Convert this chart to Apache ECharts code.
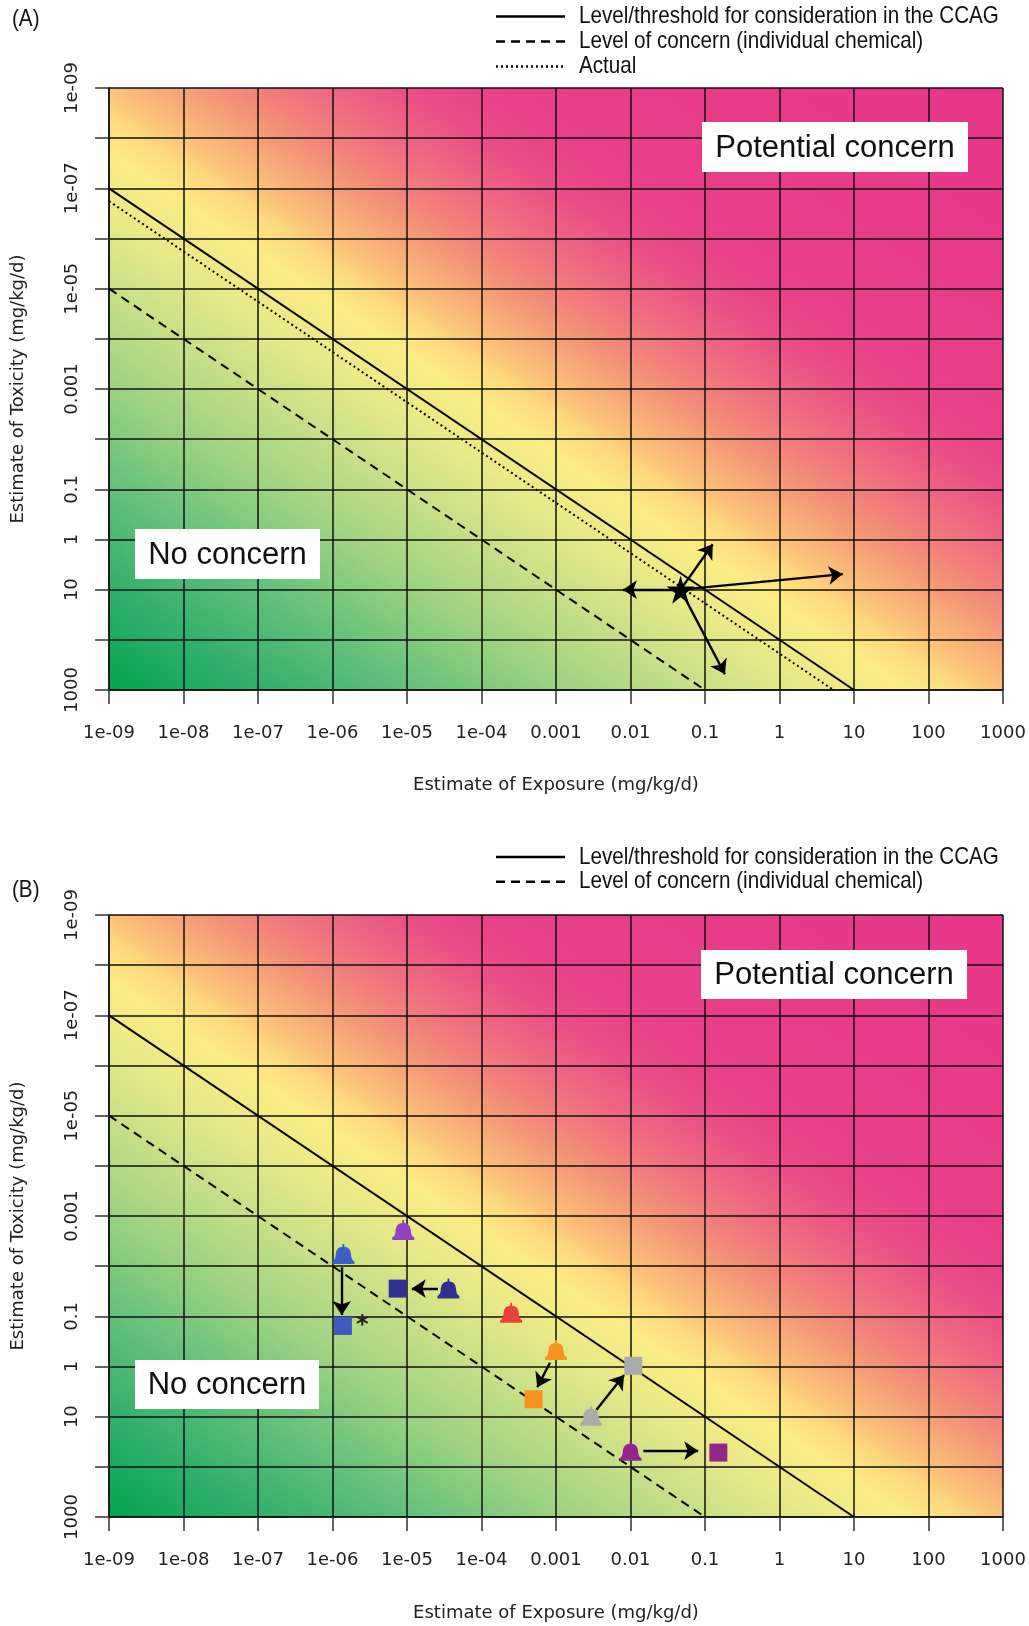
<!DOCTYPE html>
<html>
<head>
<meta charset="utf-8">
<script src="https://cdn.jsdelivr.net/npm/echarts@6/dist/echarts.min.js"></script>
<style>
  html, body { margin: 0; padding: 0; background: #fff; }
  #chart { width: 1029px; height: 1626px; }
</style>
</head>
<body>
<div id="chart"></div>
<script>
// tick labels (one per decade, 1e-09 .. 1000)
const xTickLabels = ['1e-09', '1e-08', '1e-07', '1e-06', '1e-05', '1e-04', '0.001', '0.01', '0.1', '1', '10', '100', '1000'];
const yTickLabels = ['1e-09', '', '1e-07', '', '1e-05', '', '0.001', '', '0.1', '1', '10', '', '1000'];

// reference lines [exposure, toxicity]
const ccagLine = [[1e-9, 1e-7], [10, 1000]];
const concernLine = [[1e-9, 1e-5], [0.1, 1000]];
const actualLine = [[1e-9, 1.8e-7], [5.3, 1000]];

// panel A: star and the arrows leaving it
const starPoint = [[0.047, 10]];
const starArrows = [
  [[0.047, 10], [0.0079, 10]],
  [[0.047, 10], [0.127, 1.24]],
  [[0.047, 10], [7.05, 4.9]],
  [[0.047, 10], [0.185, 485]]
];

// panel B: bells (before) and squares (after)
const bellPoints = [[8.9e-6, 1.9e-3], [1.4e-6, 5.7e-3], [3.6e-5, 0.028], [2.5e-4, 0.085], [1.0e-3, 0.47], [2.95e-3, 9.6], [0.01, 48]];
const bellColors = ['#8e44c4', '#3b5fc4', '#2e3192', '#ee3e3e', '#f7941d', '#ababab', '#93278f'];
const squarePoints = [[1.38e-6, 0.156], [7.5e-6, 0.028], [5.0e-4, 4.5], [0.0109, 0.97], [0.151, 52]];
const squareColors = ['#3d5cc0', '#2e3192', '#f7941d', '#ababab', '#93278f'];
const squareNotes = ['*', '', '', '', ''];
const shiftArrows = [
  [[1.33e-6, 0.0105], [1.33e-6, 0.094]],
  [[2.6e-5, 0.028], [1.16e-5, 0.028]],
  [[8.3e-4, 0.84], [5.6e-4, 2.6]],
  [[3.5e-3, 7.3], [8.2e-3, 1.48]],
  [[0.0149, 47.6], [0.081, 47.6]]
];

const gridA = {left: 109, top: 88, width: 894, height: 602};
const gridB = {left: 109, top: 915, width: 894, height: 602};

const stops = [
  [0, '#02a54f'], [0.0833, '#2faf6a'], [0.1667, '#62bf7a'], [0.25, '#99d182'],
  [0.3333, '#c8e088'], [0.3958, '#e9e988'], [0.4458, '#fbec84'], [0.479, '#fcd87d'],
  [0.5, '#fbc279'], [0.5417, '#f69e78'], [0.5833, '#f17f7b'], [0.625, '#ed6581'],
  [0.6667, '#ea4e87'], [0.7083, '#e8408a'], [1, '#e8368a']
];

// diagonal colour band: colour depends on log(exposure) - log(toxicity)
function bandGradient(W, H) {
  const gx = 12 / W, gy = -12 / H, g2 = gx * gx + gy * gy;
  const x0 = W / 2 - 12 * gx / g2, y0 = H / 2 - 12 * gy / g2;
  const x1 = W / 2 + 12 * gx / g2, y1 = H / 2 + 12 * gy / g2;
  return new echarts.graphic.LinearGradient(x0 / W, y0 / H, x1 / W, y1 / H,
    stops.map(s => ({offset: s[0], color: s[1]})));
}

const decade = v => Math.round(Math.log10(v)) + 9;
const tickFont = {fontFamily: 'DejaVu Sans', fontSize: 18, color: '#222'};
const nameFont = {fontFamily: 'DejaVu Sans', fontSize: 18, color: '#222'};

function xAxis(i, gap) {
  return {
    type: 'log', logBase: 10, gridIndex: i, min: 1e-9, max: 1000, interval: 1,
    name: 'Estimate of Exposure (mg/kg/d)', nameLocation: 'middle', nameGap: gap, nameTextStyle: nameFont,
    axisLine: {show: true, lineStyle: {color: '#111', width: 1.5}},
    axisTick: {show: true, length: 14, lineStyle: {color: '#333', width: 1.5}},
    splitLine: {show: true, lineStyle: {color: '#111', width: 1.5}},
    axisLabel: Object.assign({margin: 34, formatter: v => xTickLabels[decade(v)]}, tickFont)
  };
}
function yAxis(i) {
  return {
    type: 'log', logBase: 10, gridIndex: i, min: 1e-9, max: 1000, interval: 1, inverse: true,
    name: 'Estimate of Toxicity (mg/kg/d)', nameLocation: 'middle', nameGap: 82, nameTextStyle: nameFont,
    axisLine: {show: true, lineStyle: {color: '#111', width: 1.5}},
    axisTick: {show: true, length: 14, lineStyle: {color: '#333', width: 1.5}},
    splitLine: {show: true, lineStyle: {color: '#111', width: 1.5}},
    axisLabel: Object.assign({margin: 28, rotate: 90, formatter: v => yTickLabels[decade(v)]}, tickFont)
  };
}

function refLine(i, data, type) {
  return {
    type: 'line', xAxisIndex: i, yAxisIndex: i, data: data, symbol: 'none', silent: true, z: 3,
    lineStyle: {color: '#000', width: 2, type: type}
  };
}
function arrows(i, list) {
  return {
    type: 'lines', coordinateSystem: 'cartesian2d', xAxisIndex: i, yAxisIndex: i, z: 4,
    symbol: ['none', 'arrow'], symbolSize: [10, 14],
    lineStyle: {color: '#000', width: 2.4, opacity: 1, curveness: 0},
    data: list.map(c => ({coords: c}))
  };
}

const bellPath = 'path://M46,0 L54,0 L54,14 C76,14 84,32 85,55 C86,72 92,80 100,84 L100,96 L0,96 L0,84 C8,80 14,72 15,55 C16,32 24,14 46,14 Z';
const starPath = 'path://M50,0 L61,35 L98,35 L68,57 L79,91 L50,70 L21,91 L32,57 L2,35 L39,35 Z';

function box(x, y, w, h, text) {
  return [
    {type: 'rect', shape: {x: x, y: y, width: w, height: h}, style: {fill: '#fff'}, z: 50},
    {type: 'text', x: x + w / 2, y: y + h / 2 + 1, z: 51,
      style: {text: text, fill: '#111', font: '31px "Liberation Sans", Arial, sans-serif', align: 'center', verticalAlign: 'middle'}}
  ];
}
// narrow legend lettering: Liberation Sans squeezed horizontally
const legendFont = '24px "Liberation Sans", Arial, sans-serif';
function legendRow(y, text, dash) {
  return [
    {type: 'line', shape: {x1: 496, y1: y, x2: 565, y2: y}, style: {stroke: '#000', lineWidth: 2.5, lineDash: dash}, z: 50},
    {type: 'text', x: 579, y: y, scaleX: 0.86, z: 50, style: {text: text, fill: '#111', font: legendFont, verticalAlign: 'middle'}}
  ];
}
function panelLabel(y, text) {
  return {type: 'text', x: 12, y: y, scaleX: 0.86, z: 50, style: {text: text, fill: '#111', font: legendFont, verticalAlign: 'middle'}};
}

const chart = echarts.init(document.getElementById('chart'), null, {renderer: 'canvas'});
const option = {
  animation: false,
  grid: [
    Object.assign({show: true, borderWidth: 0, backgroundColor: bandGradient(gridA.width, gridA.height)}, gridA),
    Object.assign({show: true, borderWidth: 0, backgroundColor: bandGradient(gridB.width, gridB.height)}, gridB)
  ],
  xAxis: [xAxis(0, 86), xAxis(1, 87)],
  yAxis: [yAxis(0), yAxis(1)],
  series: [
    refLine(0, ccagLine, 'solid'),
    refLine(0, concernLine, [9, 6]),
    refLine(0, actualLine, [2, 3]),
    arrows(0, starArrows),
    {type: 'scatter', xAxisIndex: 0, yAxisIndex: 0, data: starPoint, symbol: starPath, symbolSize: 28, z: 5,
      itemStyle: {color: '#000', opacity: 1}},
    refLine(1, ccagLine, 'solid'),
    refLine(1, concernLine, [9, 6]),
    arrows(1, shiftArrows),
    {type: 'scatter', xAxisIndex: 1, yAxisIndex: 1, symbol: bellPath, symbolSize: [22, 20], z: 5,
      data: bellPoints.map((p, k) => ({value: p, itemStyle: {color: bellColors[k], opacity: 1}}))},
    {type: 'scatter', xAxisIndex: 1, yAxisIndex: 1, symbol: 'rect', symbolSize: 18, z: 5,
      data: squarePoints.map((p, k) => ({
        value: p, itemStyle: {color: squareColors[k], opacity: 1},
        label: {show: squareNotes[k] !== '', position: 'right', distance: 4, formatter: squareNotes[k],
          fontSize: 24, fontWeight: 'bold', color: '#222', fontFamily: 'DejaVu Sans'}
      }))}
  ],
  graphic: [].concat(
    box(702, 122, 266, 50, 'Potential concern'),
    box(135, 529, 185, 50, 'No concern'),
    box(701, 950, 266, 49, 'Potential concern'),
    box(135, 1360, 184, 49, 'No concern'),
    legendRow(16.6, 'Level/threshold for consideration in the CCAG', null),
    legendRow(41.5, 'Level of concern (individual chemical)', [9, 6]),
    legendRow(66.4, 'Actual', [2, 3]),
    legendRow(857, 'Level/threshold for consideration in the CCAG', null),
    legendRow(881.7, 'Level of concern (individual chemical)', [9, 6]),
    [panelLabel(19, '(A)'), panelLabel(890, '(B)')]
  )
};
chart.setOption(option);
</script>
</body>
</html>
